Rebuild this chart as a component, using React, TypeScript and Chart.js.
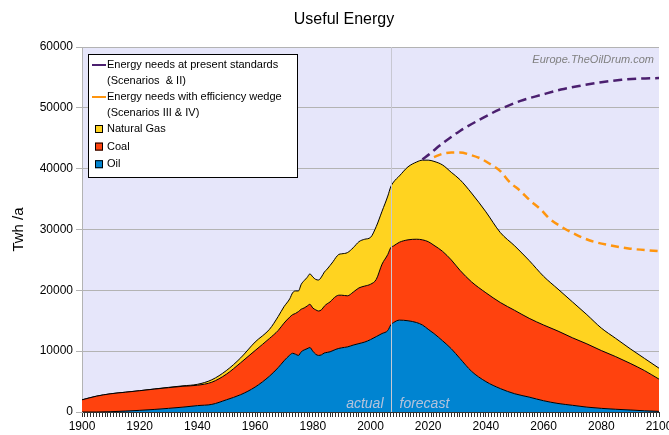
import React, { useEffect, useRef } from 'react';
import { Chart, registerables } from 'chart.js';
Chart.register(...registerables);

// ---- data (TWh/a) ----
const years = [1900, 1905, 1910, 1915, 1920, 1925, 1930, 1935, 1940, 1945, 1950, 1955, 1960, 1965, 1968, 1970, 1972, 1973, 1974, 1975, 1976, 1977, 1978, 1979, 1980, 1981, 1982, 1983, 1984, 1985, 1986, 1987, 1988, 1989, 1990, 1992, 1994, 1996, 1998, 2000, 2002, 2004, 2006, 2007, 2008, 2010, 2013, 2016, 2018, 2020, 2022, 2025, 2028, 2031, 2035, 2040, 2045, 2050, 2055, 2060, 2065, 2070, 2075, 2080, 2085, 2090, 2095, 2100];
const oil = [0, 0, 50, 150, 270, 420, 600, 800, 1050, 1250, 2000, 2850, 4100, 5900, 7300, 8400, 9350, 9650, 9500, 9300, 9900, 10200, 10400, 10600, 10000, 9500, 9300, 9400, 9700, 9800, 9900, 10100, 10300, 10450, 10550, 10700, 11000, 11250, 11500, 11900, 12400, 12900, 13400, 14300, 14700, 15100, 15000, 14700, 14300, 13600, 12900, 11700, 10400, 8800, 6700, 5000, 3850, 3000, 2450, 1850, 1400, 1100, 800, 600, 450, 330, 200, 100];
const coal = [2000, 2600, 2950, 3100, 3230, 3340, 3400, 3430, 3350, 3650, 4200, 5250, 6000, 6200, 6100, 6200, 6250, 6350, 6700, 7200, 7000, 6900, 7000, 7100, 7100, 7300, 7300, 7400, 7700, 8000, 8200, 8500, 8700, 8750, 8650, 8400, 8700, 9150, 9200, 9100, 9400, 11400, 12500, 12700, 12600, 12800, 13300, 13700, 14000, 14400, 14500, 14700, 14600, 14500, 14700, 14600, 14150, 13700, 12950, 12450, 11900, 11100, 10400, 9500, 8650, 7670, 6600, 5300];
const gas = [0, 0, 0, 0, 0, 20, 50, 70, 150, 400, 600, 800, 1400, 1500, 2300, 2700, 3000, 3600, 3700, 3400, 4100, 4500, 4700, 5000, 5100, 5000, 5100, 5400, 5600, 5700, 6000, 6100, 6400, 6700, 6800, 7100, 7300, 7600, 7700, 7700, 8700, 8700, 9600, 10000, 10500, 10900, 12000, 12700, 13100, 13400, 13800, 14200, 14400, 14900, 14600, 13300, 11500, 10600, 9500, 8000, 6900, 5900, 4800, 3700, 3000, 2400, 2000, 1800];

const presentYears = [2018, 2021, 2024, 2031, 2038, 2045, 2052, 2059, 2066, 2073, 2080, 2087, 2093, 2100];
const presentNeeds = [41500, 42600, 43800, 46200, 48100, 49800, 51150, 52100, 53000, 53650, 54200, 54600, 54800, 54900];
const wedgeYears = [2022, 2025, 2028, 2031, 2035, 2038, 2041, 2045, 2048, 2052, 2055, 2059, 2062, 2066, 2069, 2076, 2083, 2090, 2100];
const wedgeNeeds = [41900, 42450, 42650, 42650, 42200, 41700, 40900, 39600, 37900, 36300, 34900, 33300, 31800, 30500, 29700, 28200, 27400, 26850, 26450];

const X_MIN = 1900;
const X_MAX = 2100;
const X_LABEL_STEP = 20;
const Y_MAX = 60000;
const Y_STEP = 10000;
const DIVIDER_YEAR = 2007;

const TITLE = 'Useful Energy';
const Y_TITLE = 'Twh /a';
const WATERMARK = 'Europe.TheOilDrum.com';
const ACTUAL = 'actual';
const FORECAST = 'forecast';

const PURPLE = '#4B1F6F';
const ORANGE = '#FF950E';
const GAS = '#FFD320';
const COAL = '#FF420E';
const OIL = '#0084D1';
const PLOT_BG = '#E6E6FA';
const GRID = '#B3B3B3';
const FONT = "'Liberation Sans', Arial, sans-serif";

const legendItems = [
  { kind: 'line', color: PURPLE, lines: ['Energy needs at present standards', '(Scenarios  & II)'] },
  { kind: 'line', color: ORANGE, lines: ['Energy needs with efficiency wedge', '(Scenarios III & IV)'] },
  { kind: 'box', color: GAS, lines: ['Natural Gas'] },
  { kind: 'box', color: COAL, lines: ['Coal'] },
  { kind: 'box', color: OIL, lines: ['Oil'] },
];

const pts = (xs: number[], ys: number[]) => xs.map((x, i) => ({ x, y: ys[i] }));

const bgPlugin = {
  id: 'plotBg',
  beforeDraw(chart: any) {
    const { ctx, chartArea } = chart;
    ctx.save();
    ctx.fillStyle = PLOT_BG;
    ctx.fillRect(chartArea.left, chartArea.top, chartArea.right - chartArea.left, chartArea.bottom - chartArea.top);
    ctx.restore();
  },
};

const overlayPlugin = {
  id: 'overlay',
  afterDatasetsDraw(chart: any) {
    const { ctx, chartArea } = chart;
    const xs = chart.scales.x;
    const dx = Math.round(xs.getPixelForValue(DIVIDER_YEAR)) + 0.5;
    ctx.save();
    ctx.strokeStyle = '#C8C8D2';
    ctx.lineWidth = 1;
    ctx.beginPath();
    ctx.moveTo(dx, chartArea.top);
    ctx.lineTo(dx, chartArea.bottom);
    ctx.stroke();
    ctx.font = `italic 14px ${FONT}`;
    ctx.fillStyle = '#B4C3DC';
    ctx.textBaseline = 'alphabetic';
    ctx.textAlign = 'right';
    ctx.fillText(ACTUAL, dx - 8, chartArea.bottom - 4);
    ctx.textAlign = 'left';
    ctx.fillText(FORECAST, dx + 8, chartArea.bottom - 4);
    // watermark
    ctx.font = `italic 11px ${FONT}`;
    ctx.fillStyle = '#808080';
    ctx.textAlign = 'right';
    ctx.textBaseline = 'middle';
    ctx.fillText(WATERMARK, chartArea.right - 5, chartArea.top + 13);
    ctx.restore();
  },
  afterDraw(chart: any) {
    const { ctx, chartArea } = chart;
    ctx.save();
    // title
    ctx.font = `16px ${FONT}`;
    ctx.fillStyle = '#000';
    ctx.textAlign = 'center';
    ctx.textBaseline = 'middle';
    ctx.fillText(TITLE, 344, 20);
    // legend box
    const x0 = chartArea.left + 6;
    const y0 = chartArea.top + 7;
    const w = 209;
    const h = 123;
    ctx.fillStyle = '#fff';
    ctx.fillRect(x0, y0, w, h);
    ctx.strokeStyle = '#000';
    ctx.lineWidth = 1;
    ctx.strokeRect(x0 + 0.5, y0 + 0.5, w, h);
    ctx.font = `11px ${FONT}`;
    ctx.textAlign = 'left';
    ctx.textBaseline = 'middle';
    let y = y0 + 11;
    const tx = x0 + 19;
    legendItems.forEach((it) => {
      if (it.kind === 'line') {
        ctx.strokeStyle = it.color;
        ctx.lineWidth = 2;
        ctx.beginPath();
        ctx.moveTo(x0 + 4, y);
        ctx.lineTo(x0 + 18, y);
        ctx.stroke();
      } else {
        ctx.fillStyle = it.color;
        ctx.fillRect(x0 + 7, y - 4, 8, 8);
        ctx.strokeStyle = '#000';
        ctx.lineWidth = 1;
        ctx.strokeRect(x0 + 7.5, y - 3.5, 7, 7);
      }
      ctx.fillStyle = '#000';
      it.lines.forEach((t, i) => {
        ctx.fillText(t, tx, y + i * 15.5);
      });
      y += it.kind === 'line' ? 32 : 17.6;
    });
    ctx.restore();
  },
};

export default function App() {
  const ref = useRef<HTMLCanvasElement>(null);
  useEffect(() => {
    if (!ref.current) return;
    const area = (label: string, data: number[], color: string, fill: any) => ({
      type: 'line',
      label,
      data: pts(years, data),
      backgroundColor: color,
      borderColor: '#000',
      borderWidth: 1,
      fill,
      pointRadius: 0,
      stack: 'energy',
      cubicInterpolationMode: 'monotone',
    });
    const chart = new Chart(ref.current, {
      type: 'line',
      data: {
        datasets: [
          {
            label: 'Energy needs at present standards',
            data: pts(presentYears, presentNeeds),
            borderColor: PURPLE,
            borderWidth: 2.5,
            borderDash: [9, 5],
            pointRadius: 0,
            fill: false,
            stack: 'present',
            cubicInterpolationMode: 'monotone',
          },
          {
            label: 'Energy needs with efficiency wedge',
            data: pts(wedgeYears, wedgeNeeds),
            borderColor: ORANGE,
            borderWidth: 2.5,
            borderDash: [8, 5],
            pointRadius: 0,
            fill: false,
            stack: 'wedge',
            cubicInterpolationMode: 'monotone',
          },
          area('Oil', oil, OIL, 'origin'),
          area('Coal', coal, COAL, '-1'),
          area('Natural Gas', gas, GAS, '-1'),
        ] as any,
      },
      options: {
        animation: false,
        responsive: false,
        devicePixelRatio: 1,
        layout: { padding: { left: 0, right: 10, top: 47, bottom: 0 } },
        plugins: {
          legend: { display: false },
          title: { display: false },
          tooltip: { enabled: false },
        },
        scales: {
          x: {
            type: 'linear',
            min: X_MIN,
            max: X_MAX,
            afterFit(scale: any) {
              scale.height = 23;
              scale.paddingLeft = 0;
              scale.paddingRight = 0;
            },
            ticks: {
              stepSize: 1,
              autoSkip: false,
              maxRotation: 0,
              padding: 2,
              color: '#000',
              font: { family: FONT, size: 12 },
              callback: (v: any) => (Number(v) % X_LABEL_STEP === 0 ? String(v) : ''),
            },
            grid: { drawOnChartArea: false, drawTicks: true, tickLength: 5, color: '#303030', lineWidth: 1 },
            border: { display: true, color: '#303030' },
          },
          y: {
            type: 'linear',
            stacked: true,
            min: 0,
            max: Y_MAX,
            afterFit(scale: any) {
              scale.width = 82;
            },
            ticks: {
              stepSize: Y_STEP,
              padding: 3,
              color: '#000',
              font: { family: FONT, size: 12 },
              callback: (v: any) => String(v),
            },
            grid: { color: GRID, tickLength: 6, drawTicks: true },
            border: { display: true, color: GRID },
            title: {
              display: true,
              text: Y_TITLE,
              color: '#000',
              font: { family: FONT, size: 15 },
              padding: { top: 10, bottom: 0 },
            },
          },
        },
      } as any,
      plugins: [bgPlugin, overlayPlugin],
    });
    return () => chart.destroy();
  }, []);
  return (
    <div style={{ position: 'fixed', left: 0, top: 0, width: 669, height: 435, background: '#fff' }}>
      <canvas ref={ref} width={669} height={435} style={{ display: 'block' }} />
    </div>
  );
}
